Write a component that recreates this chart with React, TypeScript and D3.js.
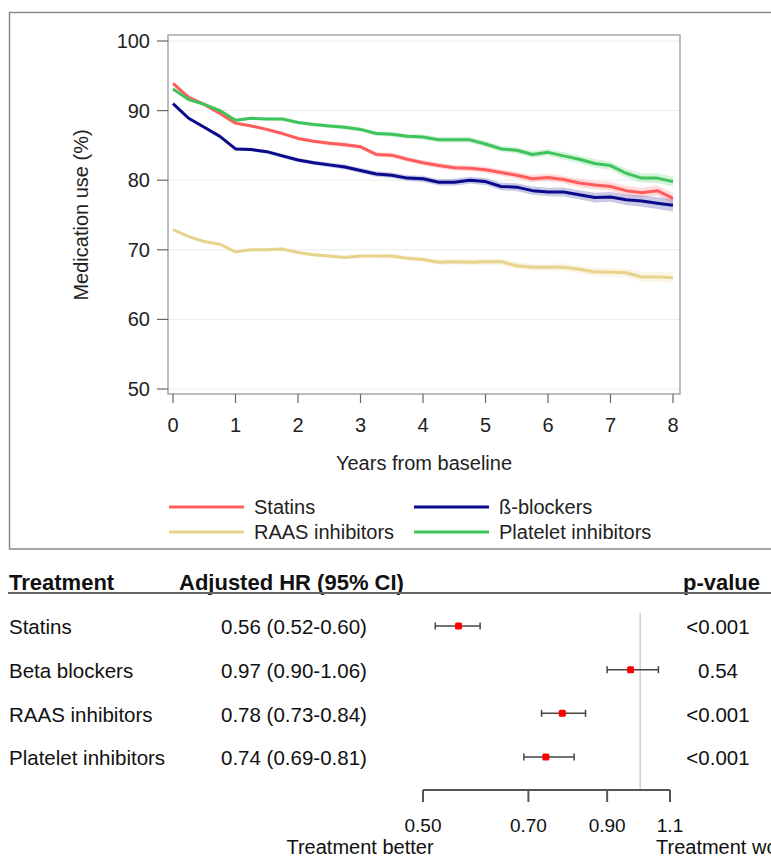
import React from 'react';
import * as d3 from 'd3';

// ---------- Data: medication use over time ----------
const years = [0, 0.25, 0.5, 0.75, 1, 1.25, 1.5, 1.75, 2, 2.25, 2.5, 2.75, 3, 3.25, 3.5, 3.75, 4, 4.25, 4.5, 4.75, 5, 5.25, 5.5, 5.75, 6, 6.25, 6.5, 6.75, 7, 7.25, 7.5, 7.75, 8];

const statins = [93.9, 91.9, 90.9, 89.6, 88.2, 87.8, 87.3, 86.7, 86.0, 85.6, 85.3, 85.1, 84.8, 83.7, 83.6, 83.0, 82.5, 82.1, 81.8, 81.7, 81.5, 81.1, 80.7, 80.2, 80.4, 80.1, 79.6, 79.3, 79.1, 78.5, 78.2, 78.5, 77.4];
const betaBlockers = [91.0, 88.9, 87.6, 86.3, 84.5, 84.4, 84.1, 83.5, 82.9, 82.5, 82.2, 81.9, 81.4, 80.9, 80.7, 80.3, 80.2, 79.7, 79.7, 80.0, 79.8, 79.1, 79.0, 78.5, 78.3, 78.3, 77.9, 77.5, 77.6, 77.2, 77.0, 76.7, 76.4];
const raas = [72.9, 71.9, 71.2, 70.8, 69.7, 70.0, 70.0, 70.1, 69.6, 69.3, 69.1, 68.9, 69.1, 69.1, 69.1, 68.8, 68.6, 68.2, 68.3, 68.2, 68.3, 68.3, 67.7, 67.5, 67.5, 67.5, 67.2, 66.8, 66.8, 66.7, 66.1, 66.1, 66.0];
const platelet = [93.1, 91.6, 90.9, 90.0, 88.6, 88.9, 88.8, 88.8, 88.3, 88.0, 87.8, 87.6, 87.3, 86.7, 86.6, 86.3, 86.2, 85.8, 85.8, 85.8, 85.2, 84.5, 84.3, 83.7, 84.0, 83.5, 83.0, 82.4, 82.1, 81.0, 80.3, 80.3, 79.8];

// 95% CI half-widths (percentage points)
const statinsCI = [0.2, 0.2, 0.2, 0.2, 0.2, 0.2, 0.25, 0.25, 0.25, 0.25, 0.3, 0.3, 0.3, 0.3, 0.35, 0.35, 0.35, 0.4, 0.4, 0.4, 0.45, 0.45, 0.5, 0.5, 0.55, 0.55, 0.6, 0.6, 0.65, 0.7, 0.7, 0.75, 0.8];
const betaCI = [0.2, 0.2, 0.2, 0.2, 0.25, 0.25, 0.25, 0.3, 0.3, 0.3, 0.35, 0.35, 0.35, 0.4, 0.4, 0.4, 0.45, 0.45, 0.5, 0.5, 0.5, 0.55, 0.55, 0.6, 0.6, 0.65, 0.65, 0.7, 0.7, 0.75, 0.8, 0.85, 0.9];
const raasCI = [0.2, 0.2, 0.2, 0.2, 0.2, 0.2, 0.25, 0.25, 0.25, 0.25, 0.3, 0.3, 0.3, 0.3, 0.35, 0.35, 0.35, 0.4, 0.4, 0.4, 0.45, 0.45, 0.5, 0.5, 0.5, 0.55, 0.55, 0.6, 0.6, 0.65, 0.7, 0.7, 0.75];
const plateletCI = [0.2, 0.2, 0.2, 0.2, 0.2, 0.2, 0.2, 0.25, 0.25, 0.25, 0.3, 0.3, 0.3, 0.3, 0.35, 0.35, 0.35, 0.4, 0.4, 0.4, 0.45, 0.45, 0.45, 0.5, 0.5, 0.55, 0.55, 0.6, 0.6, 0.65, 0.65, 0.7, 0.7];

const seriesNames = ['Statins', 'ß-blockers', 'RAAS inhibitors', 'Platelet inhibitors'];
const seriesColors = ['#ff5c5c', '#0a0a8c', '#e8d38c', '#3ec45a'];
const seriesValues = [statins, betaBlockers, raas, platelet];
const seriesCI = [statinsCI, betaCI, raasCI, plateletCI];

const yTicks = [50, 60, 70, 80, 90, 100];
const xTicks = [0, 1, 2, 3, 4, 5, 6, 7, 8];

// ---------- Data: forest plot ----------
const treatments = ['Statins', 'Beta blockers', 'RAAS inhibitors', 'Platelet inhibitors'];
const hr = [0.56, 0.97, 0.78, 0.74];
const hrLow = [0.52, 0.90, 0.73, 0.69];
const hrHigh = [0.60, 1.06, 0.84, 0.81];
const pValues = ['<0.001', '0.54', '<0.001', '<0.001'];
const forestTicks = [0.5, 0.7, 0.9, 1.1];
const forestTickLabels = ['0.50', '0.70', '0.90', '1.1'];

const FONT = "'Liberation Sans', Arial, Helvetica, sans-serif";

export default function App() {
  const W = 771, H = 857;
  // top chart
  const x = d3.scaleLinear().domain([0, 8]).range([173, 673]);
  const y = d3.scaleLinear().domain([50, 100]).range([389, 41]);
  const frame = { left: 168, right: 680, top: 35, bottom: 394 };

  const line = d3.line<number>().x((_, i) => x(years[i])).y((d) => y(d));

  // forest
  const fx = d3.scaleLog().domain([0.5, 1.1]).range([423, 670]);
  const fy = d3.scalePoint<number>().domain([0, 1, 2, 3]).range([626, 757]);
  const axisY = 790;

  return (
    <svg width={W} height={H} style={{ position: 'absolute', left: 0, top: 0, background: '#fff' }} fontFamily={FONT}>
      <rect x={0} y={0} width={W} height={H} fill="#fff" />
      {/* outer border of the top panel */}
      <path d={`M${W + 5},12.5 H9.5 V549 H${W + 5}`} fill="none" stroke="#8a8a8a" strokeWidth={1.5} />

      {/* gridlines */}
      {yTicks.map((t) => (
        <line key={'g' + t} x1={frame.left} x2={frame.right} y1={y(t)} y2={y(t)} stroke="#ececec" strokeWidth={1} />
      ))}
      {/* frame */}
      <rect x={frame.left} y={frame.top} width={frame.right - frame.left} height={frame.bottom - frame.top} fill="none" stroke="#a6a6a6" strokeWidth={1.5} />

      {/* y ticks */}
      {yTicks.map((t) => (
        <g key={'yt' + t}>
          <line x1={157} x2={frame.left} y1={y(t)} y2={y(t)} stroke="#666" strokeWidth={1.2} />
          <text x={150} y={y(t)} dy="0.35em" textAnchor="end" fontSize={20} fill="#222">{t}</text>
        </g>
      ))}
      {/* x ticks */}
      {xTicks.map((t) => (
        <g key={'xt' + t}>
          <line x1={x(t)} x2={x(t)} y1={frame.bottom} y2={frame.bottom + 9} stroke="#666" strokeWidth={1.2} />
          <text x={x(t)} y={432} textAnchor="middle" fontSize={20} fill="#222">{t}</text>
        </g>
      ))}
      <text x={424} y={470} textAnchor="middle" fontSize={20} fill="#222">Years from baseline</text>
      <text transform={`translate(88,215) rotate(-90)`} textAnchor="middle" fontSize={20} fill="#222">Medication use (%)</text>

      {/* bands */}
      {seriesValues.map((vals, si) => {
        const area = d3.area<number>()
          .x((_, i) => x(years[i]))
          .y0((d, i) => y(d - seriesCI[si][i]))
          .y1((d, i) => y(d + seriesCI[si][i]));
        return <path key={'b' + si} d={area(vals) || ''} fill={seriesColors[si]} fillOpacity={0.22} stroke="none" />;
      })}
      {/* lines */}
      {seriesValues.map((vals, si) => (
        <path key={'l' + si} d={line(vals) || ''} fill="none" stroke={seriesColors[si]} strokeWidth={3} strokeLinejoin="round" />
      ))}

      {/* legend */}
      {seriesNames.map((n, i) => {
        const col = i % 2, row = Math.floor(i / 2);
        const lx = col === 0 ? 169 : 414;
        const ly = row === 0 ? 507 : 532;
        return (
          <g key={'lg' + i}>
            <line x1={lx} x2={lx + 75} y1={ly} y2={ly} stroke={seriesColors[i]} strokeWidth={3} />
            <text x={lx + 85} y={ly} dy="0.35em" fontSize={20} fill="#222">{n}</text>
          </g>
        );
      })}

      {/* ---------- forest table ---------- */}
      <text x={9} y={590} fontSize={22} fontWeight="bold" fill="#111">Treatment</text>
      <text x={179} y={590} fontSize={22} fontWeight="bold" fill="#111">Adjusted HR (95% CI)</text>
      <text x={760} y={590} textAnchor="end" fontSize={22} fontWeight="bold" fill="#111">p-value</text>
      <line x1={8} x2={W} y1={593} y2={593} stroke="#666" strokeWidth={2} />

      <line x1={fx(1)} x2={fx(1)} y1={613} y2={axisY} stroke="#cfcfcf" strokeWidth={1.5} />

      {treatments.map((t, i) => {
        const ry = fy(i) as number;
        return (
          <g key={'r' + i}>
            <text x={9} y={ry + 1} dy="0.35em" fontSize={20.5} fill="#111">{t}</text>
            <text x={221} y={ry + 1} dy="0.35em" fontSize={20.5} fill="#111">
              {`${hr[i].toFixed(2)} (${hrLow[i].toFixed(2)}-${hrHigh[i].toFixed(2)})`}
            </text>
            <text x={718} y={ry + 1} dy="0.35em" textAnchor="middle" fontSize={20.5} fill="#111">{pValues[i]}</text>
            <line x1={fx(hrLow[i])} x2={fx(hrHigh[i])} y1={ry} y2={ry} stroke="#444" strokeWidth={1.5} />
            <line x1={fx(hrLow[i])} x2={fx(hrLow[i])} y1={ry - 3.5} y2={ry + 3.5} stroke="#444" strokeWidth={1.5} />
            <line x1={fx(hrHigh[i])} x2={fx(hrHigh[i])} y1={ry - 3.5} y2={ry + 3.5} stroke="#444" strokeWidth={1.5} />
            <rect x={fx(hr[i]) - 3.5} y={ry - 3.5} width={7} height={7} rx={1.5} fill="#ff0000" />
          </g>
        );
      })}

      <line x1={fx(0.5)} x2={fx(1.1)} y1={axisY} y2={axisY} stroke="#555" strokeWidth={2} />
      {forestTicks.map((t, i) => (
        <g key={'ft' + i}>
          <line x1={fx(t)} x2={fx(t)} y1={axisY} y2={axisY + 12} stroke="#555" strokeWidth={2} />
          <text x={fx(t)} y={832} textAnchor="middle" fontSize={19} fill="#111">{forestTickLabels[i]}</text>
        </g>
      ))}
      <text x={360} y={854} textAnchor="middle" fontSize={20} fill="#111">Treatment better</text>
      <text x={656} y={854} fontSize={20} fill="#111">Treatment worse</text>
    </svg>
  );
}
